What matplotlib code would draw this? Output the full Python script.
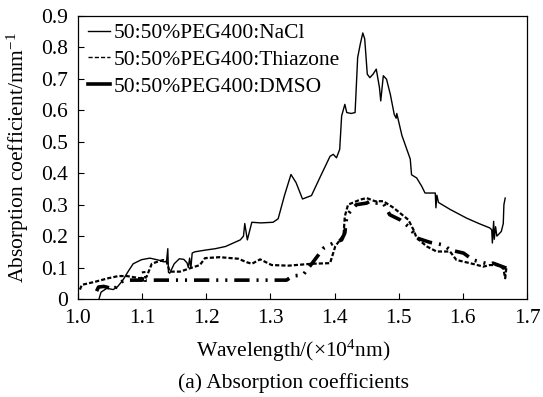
import matplotlib
matplotlib.use("Agg")
import matplotlib.pyplot as plt
import numpy as np

plt.rcParams['font.family'] = ['Liberation Serif', 'DejaVu Serif']
plt.rcParams['mathtext.fontset'] = 'custom'
plt.rcParams['mathtext.rm'] = 'Liberation Serif'
plt.rcParams['mathtext.it'] = 'Liberation Serif:italic'
plt.rcParams['lines.scale_dashes'] = False

# wavelength (x10^4 nm), absorption coefficient (mm^-1)
nacl = [(1.033, 0.002), (1.036, 0.022), (1.045, 0.034), (1.055, 0.030), (1.062, 0.040),
        (1.070, 0.060), (1.078, 0.087), (1.086, 0.112), (1.099, 0.125), (1.112, 0.130),
        (1.125, 0.124), (1.134, 0.118), (1.138, 0.120), (1.140, 0.160), (1.141, 0.085),
        (1.143, 0.082), (1.150, 0.112), (1.158, 0.128), (1.165, 0.126), (1.170, 0.115),
        (1.172, 0.100), (1.174, 0.130), (1.176, 0.098), (1.178, 0.146), (1.182, 0.150),
        (1.200, 0.156), (1.214, 0.160), (1.230, 0.167), (1.253, 0.188), (1.258, 0.200),
        (1.260, 0.240), (1.264, 0.188), (1.271, 0.244), (1.285, 0.242), (1.304, 0.244),
        (1.312, 0.255), (1.322, 0.330), (1.332, 0.396), (1.340, 0.370), (1.350, 0.318),
        (1.364, 0.329), (1.378, 0.390), (1.393, 0.454), (1.398, 0.460), (1.403, 0.449),
        (1.408, 0.476), (1.411, 0.582), (1.416, 0.619), (1.419, 0.593), (1.426, 0.590),
        (1.432, 0.593), (1.436, 0.768), (1.440, 0.810), (1.444, 0.846), (1.447, 0.827),
        (1.451, 0.715), (1.455, 0.704), (1.460, 0.715), (1.465, 0.731), (1.470, 0.672),
        (1.472, 0.630), (1.476, 0.710), (1.481, 0.699), (1.487, 0.650), (1.493, 0.587),
        (1.496, 0.575), (1.497, 0.590), (1.505, 0.520), (1.518, 0.445), (1.520, 0.395),
        (1.528, 0.385), (1.536, 0.358), (1.541, 0.337), (1.557, 0.337), (1.558, 0.290),
        (1.5595, 0.330), (1.562, 0.307), (1.580, 0.285), (1.606, 0.257), (1.625, 0.240),
        (1.642, 0.226), (1.645, 0.220), (1.646, 0.178), (1.648, 0.247), (1.649, 0.190),
        (1.651, 0.230), (1.653, 0.200), (1.655, 0.204), (1.660, 0.215), (1.663, 0.240),
        (1.664, 0.300), (1.666, 0.321)]

thiazone = [(1.003, 0.030), (1.006, 0.045), (1.027, 0.055), (1.047, 0.066), (1.063, 0.073),
            (1.076, 0.073), (1.097, 0.066), (1.107, 0.071), (1.115, 0.112), (1.123, 0.118),
            (1.133, 0.124), (1.138, 0.120), (1.143, 0.087), (1.159, 0.087), (1.175, 0.098),
            (1.190, 0.108), (1.198, 0.130), (1.221, 0.133), (1.250, 0.128), (1.263, 0.117),
            (1.271, 0.112), (1.284, 0.126), (1.302, 0.108), (1.328, 0.106), (1.364, 0.112),
            (1.393, 0.114), (1.401, 0.167), (1.414, 0.204), (1.416, 0.263), (1.421, 0.300),
            (1.427, 0.305), (1.440, 0.316), (1.450, 0.321), (1.463, 0.311), (1.476, 0.311),
            (1.492, 0.290), (1.515, 0.252), (1.523, 0.220), (1.528, 0.194), (1.544, 0.167),
            (1.559, 0.151), (1.580, 0.151), (1.590, 0.124), (1.611, 0.114), (1.632, 0.103),
            (1.642, 0.108), (1.653, 0.108), (1.663, 0.098), (1.666, 0.066), (1.668, 0.103)]

dmso = [(1.029, 0.025), (1.032, 0.038), (1.040, 0.040), (1.050, 0.035), (1.056, 0.030),
        (1.065, 0.052), (1.073, 0.060), (1.100, 0.060), (1.102, 0.090), (1.104, 0.060),
        (1.325, 0.060), (1.335, 0.073), (1.351, 0.077), (1.359, 0.098), (1.367, 0.119),
        (1.377, 0.146), (1.383, 0.162), (1.398, 0.178), (1.411, 0.188), (1.416, 0.210),
        (1.419, 0.265), (1.427, 0.285), (1.434, 0.300), (1.450, 0.305), (1.455, 0.311),
        (1.466, 0.305), (1.476, 0.305), (1.486, 0.268), (1.502, 0.252), (1.518, 0.226),
        (1.528, 0.194), (1.549, 0.180), (1.570, 0.172), (1.580, 0.156), (1.601, 0.146),
        (1.616, 0.124), (1.642, 0.110), (1.647, 0.114), (1.668, 0.098)]

labels = ['50:50%PEG400:NaCl', '50:50%PEG400:Thiazone', '50:50%PEG400:DMSO']
x_ticks = [1.0, 1.1, 1.2, 1.3, 1.4, 1.5, 1.6, 1.7]
y_ticks = [0, 0.1, 0.2, 0.3, 0.4, 0.5, 0.6, 0.7, 0.8, 0.9]

FS = 15.5

fig = plt.figure(figsize=(5.43, 3.97), dpi=100)
ax = fig.add_axes([78 / 543, 1 - 299 / 397, 449 / 543, 283 / 397])

x, y = np.array(nacl).T
ax.plot(x, y, color='black', lw=1.0, label=labels[0])
x, y = np.array(thiazone).T
ax.plot(x, y, color='black', lw=1.6, dashes=(3, 1.5), label=labels[1])
x, y = np.array(dmso).T
ax.plot(x, y, color='black', lw=2.6, dashes=(11, 5, 1.5, 5, 1.5, 5), label=labels[2])

ax.set_xlim(1.0, 1.7)
ax.set_ylim(0, 0.9)
ax.set_xticks(x_ticks)
ax.set_xticklabels([f'{v:.1f}' for v in x_ticks])
ax.set_yticks(y_ticks)
ax.set_yticklabels(['0'] + [f'{v:.1f}' for v in y_ticks[1:]])
ax.tick_params(direction='in', length=4, width=0.8, labelsize=FS)
ax.tick_params(axis='x', pad=7.5)
ax.tick_params(axis='y', pad=7)
for s in ax.spines.values():
    s.set_linewidth(0.9)

leg = ax.legend(loc='upper left', frameon=False, fontsize=FS, handlelength=1.0,
                handletextpad=0.18, labelspacing=0.32, borderpad=0.0,
                borderaxespad=0.0, bbox_to_anchor=(10 / 449, 1 - 7 / 283))
# legend shows DMSO handle as a plain thick line like the original
leg.get_lines()[2].set_linestyle('-')
leg.get_lines()[1].set_linewidth(1.0)

fig.text(293 / 543, 1 - 351 / 397, 'Wavelength/(×10$^4$nm)', ha='center', va='center',
         fontsize=FS)
fig.text(293 / 543, 1 - 383 / 397, '(a) Absorption coefficients', ha='center', va='center',
         fontsize=FS)
fig.text(18 / 543, 1 - 158 / 397, 'Absorption coefficient/mm$^{-1}$', ha='center',
         va='center', rotation=90, fontsize=FS)

fig.savefig('out.png', dpi=100)
